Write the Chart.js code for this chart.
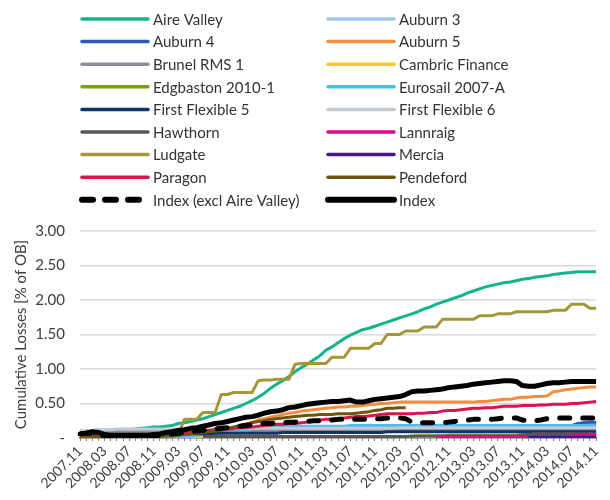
<!DOCTYPE html>
<html>
<head>
<meta charset="utf-8">
<script src="https://cdn.jsdelivr.net/npm/chart.js@4.4.0/dist/chart.umd.min.js"></script>
<style>
html, body { margin: 0; padding: 0; background: #fff; }
</style>
</head>
<body>
<canvas id="mycanvas" width="610" height="500"></canvas>
<script>
// months 2007.11 .. 2014.11
var months = [];
for (var y = 2007, m = 11; months.length < 85; m++) {
	if (m > 12) { m = 1; y++; }
	months.push(y + '.' + (m < 10 ? '0' + m : m));
}

function gap(n) { var a = []; for (var i = 0; i < n; i++) a.push(null); return a; }

var aireValley = [0.08,0.09,0.09,0.10,0.10,0.10,0.11,0.11,0.12,0.13,0.14,0.15,
	0.16,0.16,0.17,0.18,0.21,0.22,0.24,0.26,0.28,0.31,0.34,0.37,
	0.40,0.43,0.46,0.50,0.54,0.59,0.65,0.72,0.78,0.83,0.89,0.96,
	1.02,1.07,1.13,1.19,1.27,1.32,1.38,1.44,1.49,1.53,1.57,1.59,
	1.62,1.65,1.68,1.71,1.74,1.77,1.80,1.83,1.87,1.90,1.94,1.97,
	2.00,2.03,2.06,2.10,2.13,2.16,2.19,2.21,2.23,2.25,2.26,2.28,
	2.30,2.31,2.33,2.34,2.35,2.37,2.38,2.39,2.40,2.41,2.41,2.41,2.41];
var auburn3 = [0.11,0.11,0.11,0.12,0.12,0.12,0.12,0.12,0.12,0.12,0.12,0.12,
	0.12,0.12,0.12,0.12,0.12,0.12,0.12,0.13,0.13,0.13,0.13,0.13,
	0.13,0.13,0.13,0.13,0.14,0.14,0.14,0.14,0.14,0.14,0.14,0.14,
	0.14,0.14,0.14,0.14,0.14,0.15,0.15,0.15,0.15,0.15,0.15,0.15,
	0.15,0.15,0.15,0.15,0.15,0.15,0.15,0.15,0.16,0.16,0.16,0.16,
	0.16,0.16,0.16,0.16,0.16,0.16,0.16,0.16,0.16,0.16,0.16,0.16,
	0.16,0.16,0.16,0.16,0.16,0.16,0.16,0.17,0.17,0.18,0.19,0.20,0.20];
var auburn4 = [0.06,0.06,0.06,0.06,0.06,0.06,0.06,0.06,0.06,0.06,0.06,0.06,
	0.06,0.06,0.06,0.07,0.07,0.07,0.07,0.07,0.08,0.08,0.08,0.08,
	0.08,0.09,0.09,0.09,0.10,0.10,0.10,0.10,0.10,0.11,0.11,0.11,
	0.11,0.11,0.11,0.11,0.11,0.11,0.11,0.12,0.12,0.12,0.12,0.12,
	0.12,0.12,0.13,0.13,0.13,0.13,0.13,0.13,0.13,0.13,0.13,0.13,
	0.13,0.13,0.13,0.13,0.13,0.13,0.13,0.13,0.13,0.13,0.14,0.14,
	0.14,0.17,0.18,0.18,0.18,0.18,0.18,0.18,0.18,0.21,0.22,0.23,0.23];
var auburn5 = [0.00,0.00,0.01,0.01,0.01,0.02,0.02,0.02,0.02,0.02,0.03,0.03,
	0.03,0.04,0.04,0.05,0.05,0.06,0.07,0.08,0.09,0.10,0.11,0.12,
	0.13,0.15,0.17,0.20,0.23,0.26,0.28,0.30,0.32,0.34,0.36,0.37,
	0.39,0.40,0.41,0.42,0.43,0.44,0.45,0.45,0.46,0.46,0.47,0.48,
	0.49,0.50,0.50,0.51,0.52,0.52,0.52,0.52,0.52,0.52,0.52,0.52,
	0.52,0.52,0.52,0.52,0.52,0.53,0.53,0.54,0.55,0.56,0.56,0.58,
	0.59,0.59,0.60,0.60,0.61,0.67,0.68,0.70,0.71,0.72,0.73,0.74,0.74];
var brunel = [0.08,0.08,0.08,0.08,0.08,0.09,0.09,0.09,0.09,0.09,0.09,0.09,
	0.09,0.09,0.09,0.09,0.09,0.09,0.09,0.09,0.09,0.10,0.10,0.10,
	0.10,0.10,0.10,0.10,0.10,0.10,0.10,0.10,0.10,0.10,0.10,0.10,
	0.11,0.11,0.11,0.11,0.11,0.11,0.11,0.11,0.11,0.11,0.11,0.11,
	0.11,0.11,0.11,0.11,0.11,0.11,0.11,0.11,0.11,0.11,0.11,0.11,
	0.11,0.11,0.11,0.11,0.11,0.11,0.11,0.11,0.11,0.11,0.11,0.11,
	0.11,0.11,0.11,0.11,0.11,0.11,0.11,0.11,0.11,0.11,0.11,0.11,0.11];
var cambric = [0.00,0.00,0.00,0.01,0.01,0.01,0.01,0.01,0.01,0.01,0.01,0.01,
	0.01,0.01,0.01,0.01,0.01,0.01,0.01,0.01,0.02,0.02,0.02,0.02,
	0.02,0.02,0.02,0.02,0.02,0.02,0.02,0.02,0.02,0.02,0.02,0.02,
	0.02,0.02,0.02,0.02,0.02,0.02,0.02,0.02,0.02,0.02,0.02,0.02,
	0.02,0.02,0.02,0.02,0.02,0.02,0.02,0.02,0.02,0.02,0.02,0.02,
	0.02,0.02,0.02,0.02,0.02,0.02,0.02,0.02,0.02,0.02,0.02,0.02,
	0.02,0.02,0.02,0.02,0.02,0.02,0.02,0.02,0.02,0.02,0.02,0.02,0.02];
var edgbaston = gap(36).concat([0.00,0.00,0.00,0.01,0.01,0.01,0.01,0.01,0.01,0.02,0.02,0.02,
	0.02,0.02,0.02,0.02,0.02,0.02,0.02,0.03,0.03,0.03,0.03,0.03,
	0.04,0.04,0.04,0.04,0.04,0.04,0.04,0.04,0.04,0.04,0.04,0.04,
	0.05,0.05,0.05,0.05,0.05,0.05,0.05,0.05,0.05,0.05,0.05,0.05,0.05]);
var eurosail = [0.00,0.00,0.00,0.00,0.00,0.00,0.00,0.00,0.00,0.00,0.00,0.00,
	0.00,0.01,0.01,0.02,0.02,0.03,0.03,0.04,0.05,0.06,0.07,0.07,
	0.08,0.08,0.09,0.10,0.14,0.16,0.17,0.17,0.17,0.17,0.17,0.17,
	0.17,0.17,0.17,0.17,0.17,0.17,0.17,0.17,0.18,0.18,0.18,0.18,
	0.18,0.18,0.18,0.18,0.18,0.18,0.18,0.18,0.18,0.18,0.18,0.18,
	0.18,0.18,0.18,0.18,0.18,0.18,0.18,0.18,0.18,0.18,0.18,0.18,
	0.18,0.18,0.18,0.18,0.18,0.18,0.18,0.18,0.18,0.18,0.18,0.18,0.18];
var firstFlex5 = [0.04,0.04,0.04,0.04,0.04,0.04,0.04,0.05,0.05,0.05,0.05,0.05,
	0.05,0.05,0.05,0.05,0.05,0.06,0.06,0.06,0.06,0.06,0.07,0.07,
	0.07,0.07,0.07,0.07,0.07,0.07,0.07,0.07,0.07,0.08,0.08,0.08,
	0.08,0.08,0.08,0.08,0.08,0.08,0.08,0.08,0.08,0.08,0.08,0.08,
	0.08,0.08,0.09,0.09,0.09,0.09,0.09,0.09,0.09,0.09,0.09,0.09,
	0.09,0.09,0.09,0.09,0.09,0.09,0.09,0.09,0.09,0.09,0.09,0.09,
	0.09,0.09,0.09,0.09,0.09,0.09,0.09,0.09,0.09,0.09,0.09,0.09,0.09];
var firstFlex6 = [0.10,0.11,0.11,0.12,0.12,0.12,0.13,0.13,0.13,0.13,0.13,0.13,
	0.13,0.13,0.13,0.13,0.13,0.13,0.13,0.13,0.13,0.13,0.14,0.14,
	0.14,0.14,0.14,0.14,0.14,0.14,0.14,0.14,0.14,0.14,0.14,0.14,
	0.14,0.14,0.14,0.14,0.14,0.14,0.14,0.14,0.14,0.14,0.14,0.14,
	0.14,0.14,0.14,0.14,0.15,0.15,0.15,0.15,0.15,0.15,0.15,0.15,
	0.15,0.15,0.15,0.15,0.15,0.15,0.15,0.15,0.15,0.15,0.15,0.15,
	0.15,0.15,0.15,0.15,0.15,0.15,0.15,0.15,0.15,0.15,0.15,0.15,0.15];
var hawthorn = gap(20).concat([0.02,0.02,0.02,0.02,
	0.02,0.02,0.02,0.02,0.02,0.02,0.02,0.02,0.02,0.02,0.02,0.02,
	0.02,0.02,0.02,0.02,0.02,0.02,0.02,0.02,0.02,0.02,0.02,0.02,
	0.02,0.02,0.02,0.02,0.02,0.02,0.03,0.03,0.03,0.03,0.03,0.03,
	0.03,0.03,0.03,0.03,0.03,0.03,0.03,0.03,0.03,0.03,0.03,0.03,
	0.04,0.05,0.06,0.06,0.06,0.06,0.06,0.06,0.06,0.06,0.06,0.06,0.06]);
var lannraig = gap(58).concat([0.01,0.01,0.01,0.01,0.01,0.01,0.01,0.01,0.01,0.01,0.01,0.01,0.01,0.01,0.01,
	0.02,0.02,0.02,0.02,0.02,0.02,0.02,0.03,0.04,0.05,0.05,0.05]);
var ludgate = [0.02,0.02,0.01,0.00,0.00,0.00,0.01,0.01,0.01,0.02,0.02,0.02,
	0.03,0.03,0.04,0.04,0.05,0.27,0.27,0.27,0.37,0.37,0.37,0.63,
	0.63,0.66,0.66,0.66,0.66,0.83,0.84,0.84,0.85,0.85,0.85,1.07,
	1.08,1.08,1.08,1.08,1.08,1.17,1.17,1.17,1.30,1.30,1.30,1.30,
	1.37,1.37,1.50,1.50,1.50,1.55,1.55,1.55,1.61,1.61,1.61,1.72,
	1.72,1.72,1.72,1.72,1.72,1.77,1.77,1.77,1.80,1.80,1.80,1.83,
	1.83,1.83,1.83,1.83,1.83,1.85,1.85,1.85,1.94,1.94,1.94,1.88,1.88];
var mercia = gap(73).concat([0.01,0.01,0.01,0.01,0.01,0.01,0.01,0.01,0.01,0.01,0.01,0.01]);
var paragon = [0.03,0.05,0.07,0.04,0.02,0.02,0.02,0.02,0.02,0.02,0.02,0.02,
	0.03,0.04,0.05,0.05,0.06,0.07,0.08,0.09,0.10,0.11,0.12,0.12,
	0.13,0.14,0.15,0.15,0.16,0.17,0.18,0.19,0.20,0.20,0.21,0.21,
	0.22,0.23,0.25,0.26,0.27,0.27,0.28,0.29,0.30,0.31,0.31,0.32,
	0.33,0.34,0.35,0.35,0.35,0.35,0.35,0.36,0.36,0.37,0.37,0.39,
	0.40,0.40,0.41,0.42,0.43,0.43,0.44,0.44,0.45,0.46,0.46,0.46,
	0.47,0.47,0.47,0.48,0.48,0.49,0.49,0.49,0.50,0.50,0.51,0.52,0.53];
var pendeford = [0.01,0.01,0.01,0.01,0.01,0.01,0.01,0.01,0.01,0.01,0.02,0.02,
	0.02,0.02,0.03,0.03,0.04,0.05,0.06,0.07,0.08,0.09,0.10,0.11,
	0.14,0.16,0.18,0.20,0.22,0.24,0.25,0.27,0.28,0.29,0.30,0.31,
	0.32,0.33,0.33,0.34,0.34,0.34,0.35,0.35,0.35,0.36,0.37,0.38,
	0.40,0.41,0.43,0.43,0.44,0.44].concat(gap(31));
var indexExcl = [0.06,0.07,0.07,0.05,0.03,0.02,0.02,0.02,0.02,0.02,0.02,0.02,
	0.03,0.04,0.05,0.06,0.07,0.08,0.09,0.10,0.11,0.12,0.13,0.14,
	0.15,0.16,0.17,0.18,0.19,0.20,0.21,0.21,0.22,0.22,0.23,0.23,
	0.24,0.24,0.25,0.25,0.26,0.26,0.27,0.27,0.27,0.27,0.27,0.28,
	0.28,0.28,0.29,0.29,0.29,0.28,0.23,0.22,0.22,0.22,0.22,0.22,
	0.23,0.24,0.25,0.26,0.27,0.27,0.27,0.27,0.28,0.29,0.29,0.29,
	0.26,0.25,0.25,0.26,0.28,0.29,0.29,0.29,0.29,0.29,0.29,0.29,0.29];
var indexAll = [0.06,0.07,0.09,0.08,0.05,0.04,0.04,0.04,0.04,0.04,0.04,0.04,
	0.05,0.06,0.08,0.09,0.11,0.12,0.14,0.15,0.17,0.19,0.21,0.22,
	0.24,0.26,0.28,0.30,0.31,0.33,0.36,0.38,0.39,0.41,0.44,0.45,
	0.47,0.49,0.50,0.51,0.52,0.53,0.53,0.54,0.55,0.52,0.52,0.54,
	0.56,0.57,0.58,0.59,0.60,0.63,0.67,0.68,0.68,0.69,0.70,0.71,
	0.73,0.74,0.75,0.76,0.78,0.79,0.80,0.81,0.82,0.83,0.83,0.82,
	0.76,0.75,0.75,0.77,0.79,0.80,0.80,0.81,0.82,0.82,0.82,0.82,0.82];

var names = ['Aire Valley', 'Auburn 3', 'Auburn 4', 'Auburn 5', 'Brunel RMS 1', 'Cambric Finance',
	'Edgbaston 2010-1', 'Eurosail 2007-A', 'First Flexible 5', 'First Flexible 6', 'Hawthorn', 'Lannraig',
	'Ludgate', 'Mercia', 'Paragon', 'Pendeford', 'Index (excl Aire Valley)', 'Index'];
var series = [aireValley, auburn3, auburn4, auburn5, brunel, cambric,
	edgbaston, eurosail, firstFlex5, firstFlex6, hawthorn, lannraig,
	ludgate, mercia, paragon, pendeford, indexExcl, indexAll];
var colors = ['#12b38d', '#9fc5e8', '#2b5cb0', '#f68d3e', '#8a8d9f', '#ffc72c',
	'#76a20e', '#4bbbf0', '#0e3563', '#c4cad4', '#575757', '#e0068c',
	'#a4973a', '#4a148c', '#d9144e', '#6e5610', '#000000', '#000000'];

var datasets = names.map(function(n, i) {
	return {
		label: n,
		data: series[i],
		borderColor: colors[i],
		backgroundColor: colors[i],
		borderWidth: i >= 16 ? 5 : 3,
		borderDash: i === 16 ? [10, 13] : [],
		borderCapStyle: i === 16 ? 'round' : 'butt',
		borderJoinStyle: 'round',
		pointRadius: 0,
		fill: false,
		order: names.length - i
	};
});

// two-column legend drawn in the top padding
var gridLegend = {
	id: 'gridLegend',
	afterDraw: function(chart) {
		var ctx = chart.ctx;
		ctx.save();
		ctx.font = '15px Lato';
		ctx.textBaseline = 'middle';
		chart.data.datasets.forEach(function(ds, i) {
			var x = 82 + (i % 2) * 246;
			var y = 19 + Math.floor(i / 2) * 22.6;
			ctx.beginPath();
			ctx.strokeStyle = ds.borderColor;
			ctx.lineWidth = i >= 16 ? 6 : 3.5;
			ctx.lineCap = 'round';
			if (i === 16) {
				ctx.setLineDash([11, 12]);
				ctx.moveTo(x, y); ctx.lineTo(x + 62, y);
			} else {
				ctx.setLineDash([]);
				ctx.moveTo(x, y); ctx.lineTo(x + 66, y);
			}
			ctx.stroke();
			ctx.setLineDash([]);
			ctx.fillStyle = '#333333';
			ctx.fillText(ds.label, x + 71, y + 1);
		});
		ctx.restore();
	}
};

var ctx = document.getElementById('mycanvas');
var chart = new Chart(ctx, {
	type: 'line',
	data: { labels: months, datasets: datasets },
	plugins: [gridLegend],
	options: {
		responsive: false,
		animation: false,
		layout: { padding: { top: 231, right: 3, left: 0, bottom: 0 } },
		plugins: { legend: { display: false }, tooltip: { enabled: false } },
		elements: { line: { tension: 0 }, point: { radius: 0 } },
		scales: {
			x: {
				grid: { drawOnChartArea: false, drawTicks: true, tickLength: 3, color: '#7f7f7f' },
				border: { display: true, color: '#595959', width: 1.5 },
				ticks: {
					autoSkip: false, maxRotation: 45, minRotation: 45, padding: 2,
					color: '#404040', font: { family: 'Lato', size: 14 },
					callback: function(v, i) { return i % 4 === 0 ? months[i] : ''; }
				},
				afterFit: function(s) { s.height = 62; }
			},
			y: {
				min: 0, max: 3,
				ticks: {
					stepSize: 0.5, padding: 15, color: '#404040', font: { family: 'Lato', size: 15 },
					callback: function(v) { return v === 0 ? '-' : v.toFixed(2); }
				},
				grid: {
					drawTicks: false, lineWidth: 1.5,
					color: function(c) { return c.tick && c.tick.value === 0 ? 'rgba(0,0,0,0)' : '#d9d9d9'; }
				},
				border: { display: false },
				title: {
					display: true, text: 'Cumulative Losses [% of OB]', color: '#404040',
					font: { family: 'Lato', size: 15 }, padding: { top: 12, bottom: 0 }
				},
				afterFit: function(s) { s.width = 80; }
			}
		}
	}
});
</script>
</body>
</html>
